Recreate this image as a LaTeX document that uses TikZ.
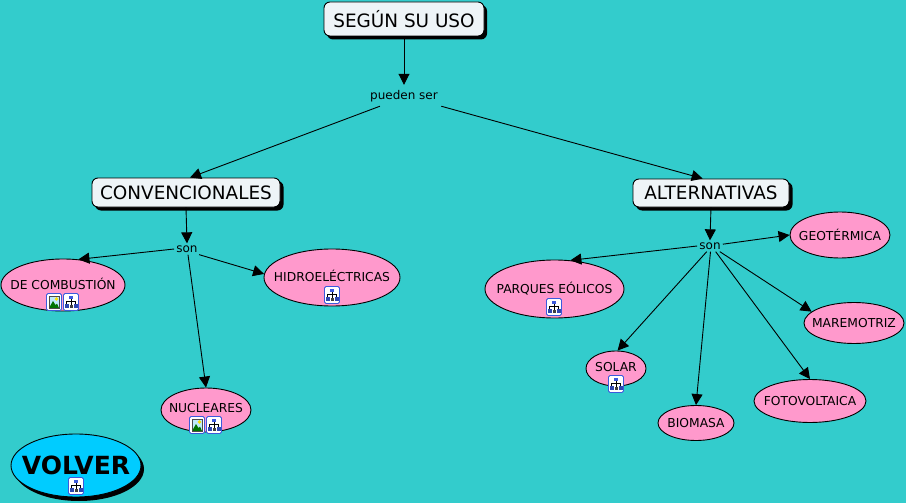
\documentclass[tikz,border=0pt]{standalone}
\usepackage{fontspec}
\setmainfont{DejaVu Sans}
\usetikzlibrary{shapes.geometric,arrows.meta}
\definecolor{bgteal}{RGB}{51,204,204}
\definecolor{pinkfill}{RGB}{255,153,204}
\definecolor{boxfill}{RGB}{238,244,247}
\definecolor{volverblue}{RGB}{0,204,255}
\definecolor{iconblue}{RGB}{60,90,220}
\newcommand{\ctext}[2][0]{\smash{\makebox[0pt]{\raisebox{\dimexpr-0.36em+#1pt\relax}{#2}}}}
\tikzset{
  conn/.style={draw=black,line width=0.9pt,-{Triangle[length=11pt,width=11pt]}},
  titlebox/.style={draw=black,line width=0.9pt,fill=boxfill,rounded corners=6pt,inner sep=0pt,align=center,font=\fontsize{18.4}{22}\selectfont},
  oval/.style={ellipse,draw=black,line width=0.9pt,fill=pinkfill,inner sep=0pt,font=\fontsize{12.3}{14}\selectfont},
  linklabel/.style={inner sep=2pt,font=\fontsize{12}{14}\selectfont},
  hiericon/.pic={
    \draw[iconblue,line width=0.8pt,fill=white,rounded corners=1.5pt] (-7.5,-8.5) rectangle (7.5,8.5);
    \draw[black,line width=0.6pt] (0,-4) -- (0,3) (-4.5,-1) -- (4.5,-1) (-4.5,-1) -- (-4.5,3) (4.5,-1) -- (4.5,3);
    \fill[iconblue] (-2,-6.5) rectangle (2,-3);
    \fill[iconblue!80!black] (-6.5,2) rectangle (-2.5,6);
    \fill[iconblue!80!black] (2.5,2) rectangle (6.5,6);
    \fill[black!75] (-1.5,2.5) rectangle (1.5,5.5);
  },
  imgicon/.pic={
    \draw[iconblue,line width=0.8pt,fill=white,rounded corners=1.5pt] (-7.5,-8.5) rectangle (7.5,8.5);
    \fill[cyan!25] (-5,-6) rectangle (5,6);
    \fill[green!45!black] (-5,6) -- (-1,-1) -- (1.5,3) -- (3,1.5) -- (5,6) -- cycle;
    \fill[yellow!80!orange] (2.5,-3) circle (1.8);
    \draw[black!70,line width=0.5pt] (-5,-6) rectangle (5,6);
  }
}
\begin{document}
\begin{tikzpicture}[x=1pt,y=-1pt]
\path[use as bounding box,fill=bgteal] (0,0) rectangle (906,503);

% shadows
\fill[black,rounded corners=6pt] (327,5) rectangle (487,39.5);
\fill[black,rounded corners=6pt] (95,181) rectangle (283.5,210.5);
\fill[black,rounded corners=6pt] (636,182) rectangle (792.5,210.5);
\fill[black] (79,469) ellipse [x radius=65,y radius=32];

% nodes
\node[titlebox,minimum width=160pt,minimum height=34pt] (uso) at (404,19) {SEGÚN SU USO};
\node[titlebox,minimum width=188pt,minimum height=29pt] (conv) at (186,192.5) {CONVENCIONALES};
\node[titlebox,minimum width=156pt,minimum height=28pt] (alt) at (711,193) {ALTERNATIVAS};
\node[linklabel,minimum width=74pt,minimum height=20pt] (pueden) at (404,96) {pueden ser};
\node[linklabel] (sonA) at (187,249) {son};
\node[linklabel] (sonB) at (710,246) {son};
\node[oval,minimum width=124pt,minimum height=52pt] (comb) at (63,285) {\ctext{DE COMBUSTIÓN}};
\node[oval,minimum width=136pt,minimum height=57pt] (hidro) at (332,277.5) {\ctext{HIDROELÉCTRICAS}};
\node[oval,minimum width=90pt,minimum height=44pt] (nuc) at (206,410) {\ctext[2]{NUCLEARES}};
\node[oval,minimum width=139pt,minimum height=58pt] (parq) at (554.5,289) {\ctext{PARQUES EÓLICOS}};
\node[oval,minimum width=60pt,minimum height=35pt] (solar) at (616,368.5) {\ctext[1]{SOLAR}};
\node[oval,minimum width=76pt,minimum height=35pt] (bio) at (696,423) {\ctext{BIOMASA}};
\node[oval,minimum width=112pt,minimum height=43pt] (foto) at (810,401) {\ctext{FOTOVOLTAICA}};
\node[oval,minimum width=100pt,minimum height=41pt] (mare) at (854,323) {\ctext{MAREMOTRIZ}};
\node[oval,minimum width=100pt,minimum height=46pt] (geo) at (840,235) {\ctext[-1]{GEOTÉRMICA}};
\node[ellipse,draw=black,line width=0.9pt,fill=volverblue,inner sep=0pt,minimum width=130pt,minimum height=63pt,font=\fontsize{25}{28}\selectfont\bfseries] (volver) at (76,465.5) {\ctext{VOLVER}};

% icons
\pic at (54,302) {imgicon};
\pic at (71,302) {hiericon};
\pic at (332,295) {hiericon};
\pic at (197,425) {imgicon};
\pic at (214,425) {hiericon};
\pic at (554,307) {hiericon};
\pic at (616,384) {hiericon};
\pic at (76,486) {hiericon};

% connectors
\draw[conn,shorten >=1pt] (uso.south) -- (pueden.north);
\draw[conn] (pueden.-157) -- (conv.75);
\draw[conn] (pueden.south east) -- (alt.120);
\draw[conn] (conv.south) -- (sonA.north);
\draw[conn] (alt.south) -- (sonB.north);
\draw[conn] (sonA.west) -- (comb.59);
\draw[conn] (sonA.-25) -- (hidro.177);
\draw[conn] (sonA.-80) -- (nuc.north);
\draw[conn] (sonB.west) -- (parq.61);
\draw[conn] (sonB.8) -- (geo.west);
\draw[conn] (sonB.-30) -- (mare.165);
\draw[conn] (sonB.-45) -- (foto.north);
\draw[conn] (sonB.-85) -- (bio.north);
\draw[conn] (sonB.-120) -- (solar.85);
\end{tikzpicture}
\end{document}
